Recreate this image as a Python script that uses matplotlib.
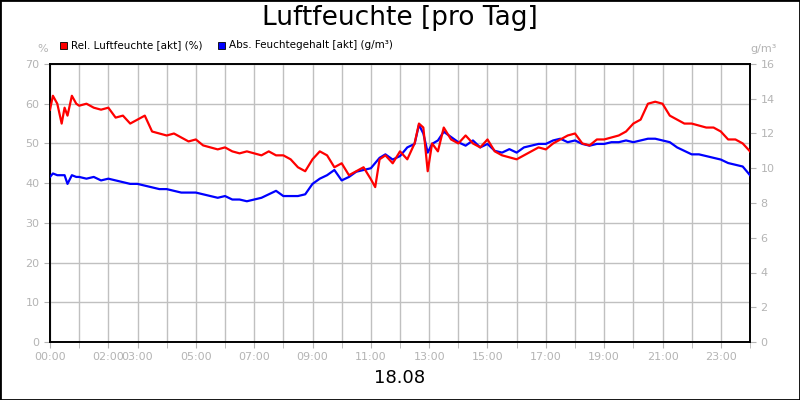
import matplotlib.pyplot as plt
from matplotlib.patches import Rectangle

# Relative humidity (%) over the day, time in hours
rel_t = [0, 0.1, 0.25, 0.4, 0.5, 0.6, 0.75, 0.9, 1.0, 1.25, 1.5, 1.75, 2.0, 2.25, 2.5, 2.75,
         3.0, 3.25, 3.5, 3.75, 4.0, 4.25, 4.5, 4.75, 5.0, 5.25, 5.5, 5.75, 6.0, 6.25, 6.5, 6.75,
         7.0, 7.25, 7.5, 7.75, 8.0, 8.25, 8.5, 8.75, 9.0, 9.25, 9.5, 9.75, 10.0, 10.25, 10.5,
         10.75, 11.0, 11.15, 11.3, 11.5, 11.75, 12.0, 12.25, 12.5, 12.65, 12.8, 12.95, 13.1,
         13.3, 13.5, 13.75, 14.0, 14.25, 14.5, 14.75, 15.0, 15.25, 15.5, 15.75, 16.0, 16.25,
         16.5, 16.75, 17.0, 17.25, 17.5, 17.75, 18.0, 18.25, 18.5, 18.75, 19.0, 19.25, 19.5,
         19.75, 20.0, 20.25, 20.5, 20.75, 21.0, 21.25, 21.5, 21.75, 22.0, 22.25, 22.5, 22.75,
         23.0, 23.25, 23.5, 23.75, 24.0]
rel_val = [58.5, 62, 60, 55, 59, 57, 62, 60, 59.5, 60, 59, 58.5, 59, 56.5, 57, 55,
           56, 57, 53, 52.5, 52, 52.5, 51.5, 50.5, 51, 49.5, 49, 48.5, 49, 48, 47.5, 48,
           47.5, 47, 48, 47, 47, 46, 44, 43, 46, 48, 47, 44, 45, 42, 43,
           44, 41, 39, 46, 47, 45, 48, 46, 50, 55, 54, 43, 50,
           48, 54, 51, 50, 52, 50, 49, 51, 48, 47, 46.5, 46, 47,
           48, 49, 48.5, 50, 51, 52, 52.5, 50, 49.5, 51, 51, 51.5, 52,
           53, 55, 56, 60, 60.5, 60, 57, 56, 55, 55, 54.5, 54, 54,
           53, 51, 51, 50, 48]

# Absolute humidity (g/m³) over the day, time in hours
abs_t = rel_t
abs_val = [9.5, 9.7, 9.6, 9.6, 9.6, 9.1, 9.6, 9.5, 9.5, 9.4, 9.5, 9.3, 9.4, 9.3, 9.2, 9.1,
           9.1, 9.0, 8.9, 8.8, 8.8, 8.7, 8.6, 8.6, 8.6, 8.5, 8.4, 8.3, 8.4, 8.2, 8.2, 8.1,
           8.2, 8.3, 8.5, 8.7, 8.4, 8.4, 8.4, 8.5, 9.1, 9.4, 9.6, 9.9, 9.3, 9.5, 9.8,
           9.9, 10.0, 10.3, 10.6, 10.8, 10.5, 10.7, 11.2, 11.4, 12.5, 12.0, 10.9, 11.4,
           11.6, 12.1, 11.8, 11.5, 11.3, 11.6, 11.2, 11.4, 11.0, 10.9, 11.1, 10.9, 11.2,
           11.3, 11.4, 11.4, 11.6, 11.7, 11.5, 11.6, 11.4, 11.3, 11.4, 11.4, 11.5, 11.5,
           11.6, 11.5, 11.6, 11.7, 11.7, 11.6, 11.5, 11.2, 11.0, 10.8, 10.8, 10.7, 10.6,
           10.5, 10.3, 10.2, 10.1, 9.6]

tick_hours = [0, 2, 3, 5, 7, 9, 11, 13, 15, 17, 19, 21, 23]
tick_labels = ["%02d:00" % h for h in tick_hours]

grey = "#b4b4b4"

fig = plt.figure(figsize=(8, 4), dpi=100)
fig.patches.append(Rectangle((0, 0), 1, 1, transform=fig.transFigure, fill=False,
                             edgecolor="black", linewidth=2))
ax = fig.add_axes([0.0625, 0.145, 0.875, 0.695])
ax2 = ax.twinx()

ax.set_xlim(0, 24)
ax.set_ylim(0, 70)
ax2.set_ylim(0, 16)
ax.set_xticks(range(25), minor=True)
ax.set_xticks(tick_hours)
ax.set_xticklabels(tick_labels)
ax.set_yticks(range(0, 71, 10))
ax2.set_yticks(range(0, 17, 2))
ax.grid(True, which="both", color="#c0c0c0", linewidth=1)
ax.set_axisbelow(True)
for a in (ax, ax2):
    a.tick_params(colors=grey, labelsize=8, length=4, which="both")
    for s in a.spines.values():
        s.set_color("black")
        s.set_linewidth(1.2)

ax2.plot(abs_t, abs_val, color="#0000ff", linewidth=1.6, zorder=3)
ax3 = ax.twinx()
ax3.set_ylim(0, 70)
ax3.axis("off")
ax3.plot(rel_t, rel_val, color="#ff0000", linewidth=1.6)

fig.text(0.5, 0.955, "Luftfeuchte [pro Tag]", ha="center", va="center", fontsize=19)
fig.text(0.5, 0.055, "18.08", ha="center", va="center", fontsize=13)
fig.text(0.053, 0.878, "%", ha="center", va="center", fontsize=8, color=grey)
fig.text(0.955, 0.878, "g/m³", ha="center", va="center", fontsize=8, color=grey)

for x, c, lab in [(0.075, "#ff0000", "Rel. Luftfeuchte [akt] (%)"),
                  (0.272, "#0000ff", "Abs. Feuchtegehalt [akt] (g/m³)")]:
    fig.patches.append(Rectangle((x, 0.878), 0.009, 0.018, transform=fig.transFigure,
                                 facecolor=c, edgecolor="black", linewidth=0.6))
    fig.text(x + 0.014, 0.887, lab, va="center", fontsize=7.5)

fig.savefig("out.png", dpi=100)
